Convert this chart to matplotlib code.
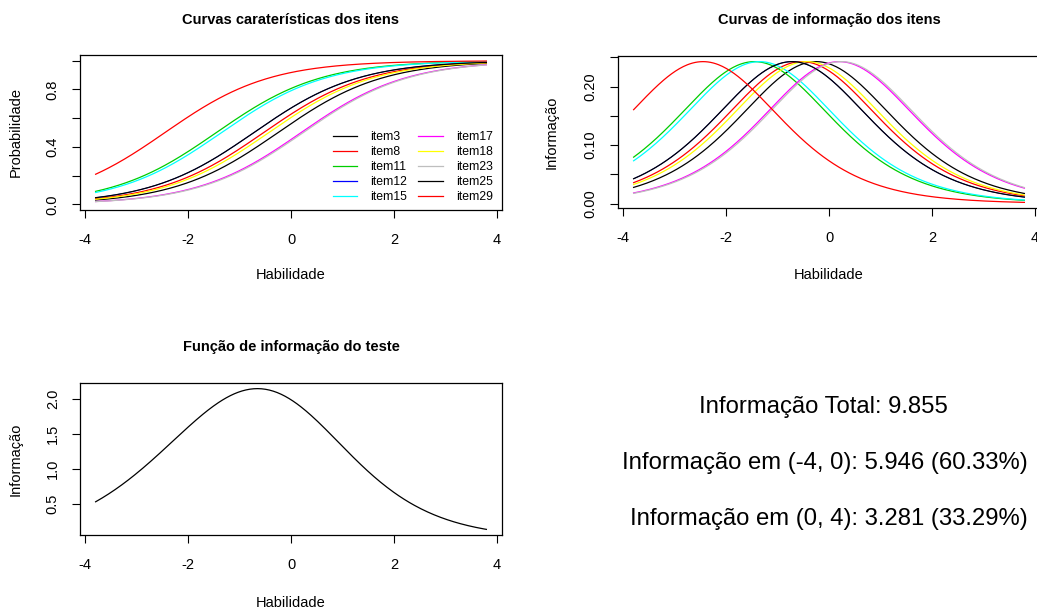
import numpy as np
import matplotlib
matplotlib.use("Agg")
import matplotlib.pyplot as plt

# ---------------- data ----------------
items = ["item3", "item8", "item11", "item12", "item15",
         "item17", "item18", "item23", "item25", "item29"]
difficulty = [-0.25, -0.53, -1.45, -0.72, -1.35, 0.20, -0.43, 0.24, -0.72, -2.45]
discrimination = 0.9855
theta_min, theta_max = -3.8, 3.8
item_colors = ["#000000", "#FF0000", "#00CD00", "#0000FF", "#00FFFF",
               "#FF00FF", "#FFFF00", "#BEBEBE", "#000000", "#FF0000"]
x_ticks = [-4, -2, 0, 2, 4]
icc_yticks = [0.0, 0.2, 0.4, 0.6, 0.8, 1.0]
icc_ylabels = ["0.0", "", "0.4", "", "0.8", ""]
iic_yticks = [0.0, 0.05, 0.10, 0.15, 0.20, 0.25]
iic_ylabels = ["0.00", "", "0.10", "", "0.20", ""]
tif_yticks = [0.5, 1.0, 1.5, 2.0]
tif_ylabels = ["0.5", "1.0", "1.5", "2.0"]
summary_lines = ["Informação Total: 9.855",
                 "Informação em (-4, 0): 5.946 (60.33%)",
                 "Informação em (0, 4): 3.281 (33.29%)"]

plt.rcParams['font.family'] = ['Liberation Sans', 'DejaVu Sans']

W, H = 1037, 610
fig = plt.figure(figsize=(W / 100, H / 100), dpi=100)

theta = np.linspace(theta_min, theta_max, 300)
a = discrimination
P = [1.0 / (1.0 + np.exp(-a * (theta - b))) for b in difficulty]
I = [a * a * p * (1 - p) for p in P]
T = np.sum(I, axis=0)


def px_axes(left, top, right, bottom):
    return fig.add_axes([left / W, 1 - bottom / H, (right - left) / W, (bottom - top) / H])


def rlim(lo, hi):
    e = 0.04 * (hi - lo)
    return lo - e, hi + e


FS = 10.5
# item12 lies exactly under item25 in the reference; draw it thinner so it stays hidden
line_w = [0.6 if n == "item12" else 0.9 for n in items]


def style(ax, ylim, yticks, ylabels):
    ax.set_xlim(rlim(theta_min, theta_max))
    ax.set_ylim(ylim)
    ax.set_xticks(x_ticks)
    ax.set_xticklabels([str(t) for t in x_ticks], fontsize=FS)
    ax.set_yticks(yticks)
    ax.set_yticklabels(ylabels, fontsize=FS)
    for lab in ax.get_yticklabels():
        lab.set_rotation(90)
        lab.set_va('center')
    ax.tick_params(axis='x', direction='out', length=5.5, width=0.8, pad=11)
    ax.tick_params(axis='y', direction='out', length=5.5, width=0.8, pad=9)
    for s in ax.spines.values():
        s.set_linewidth(0.9)


def ftext(x, y, s, **kw):
    fig.text(x / W, 1 - y / H, s, ha='center', va='center', **kw)


# ---- panel 1: ICC ----
ax1 = px_axes(80, 55, 502, 210)
for p, c, name, lw in zip(P, item_colors, items, line_w):
    ax1.plot(theta, p, color=c, lw=lw, label=name)
style(ax1, rlim(0, 1), icc_yticks, icc_ylabels)
leg = ax1.legend(ncol=2, frameon=False, loc='lower right', bbox_to_anchor=(0.985, 0.03),
                 fontsize=8.8, handlelength=2.0, handletextpad=1.1, columnspacing=0.9,
                 labelspacing=0.24, borderpad=0.2, borderaxespad=0)
for h in leg.get_lines():
    h.set_linewidth(0.9)
ftext(291, 20, "Curvas caraterísticas dos itens", fontsize=FS, fontweight='bold')
ftext(16, 132, "Probabilidade", fontsize=FS, rotation=90)
ftext(291, 275, "Habilidade", fontsize=FS)

# ---- panel 2: item information ----
ax2 = px_axes(618, 56, 1040, 208)
for i_, c, lw in zip(I, item_colors, line_w):
    ax2.plot(theta, i_, color=c, lw=lw)
imin = min(x.min() for x in I)
imax = max(x.max() for x in I)
style(ax2, rlim(imin, imax), iic_yticks, iic_ylabels)
ftext(829, 20, "Curvas de informação dos itens", fontsize=FS, fontweight='bold')
ftext(552, 132, "Informação", fontsize=FS, rotation=90)
ftext(829, 275, "Habilidade", fontsize=FS)

# ---- panel 3: test information ----
ax3 = px_axes(80, 383, 502, 535)
ax3.plot(theta, T, color='black', lw=0.9)
style(ax3, rlim(T.min(), T.max()), tif_yticks, tif_ylabels)
ftext(291, 347, "Função de informação do teste", fontsize=FS, fontweight='bold')
ftext(16, 459, "Informação", fontsize=FS, rotation=90)
ftext(291, 603, "Habilidade", fontsize=FS)

# ---- panel 4: summary text ----
for (x, y), s in zip([(823.5, 407), (824.5, 463), (829, 519)], summary_lines):
    ftext(x, y, s, fontsize=17.2)

fig.savefig("out.png", dpi=100)
